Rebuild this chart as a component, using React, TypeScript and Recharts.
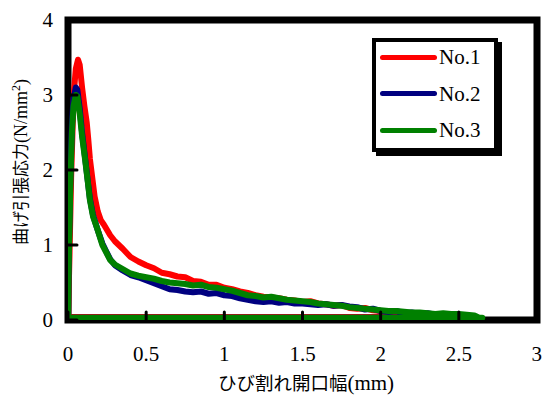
import { LineChart, Line, XAxis, YAxis, ReferenceArea, Legend } from "recharts";

// crack opening width (mm) vs flexural tensile stress (N/mm2)
const X_TICKS = [0, 0.5, 1, 1.5, 2, 2.5, 3];
const Y_TICKS = [0, 1, 2, 3, 4];
const SERIES_NAMES = ["No.1", "No.2", "No.3"];
const SERIES_COLORS = ["#ff0000", "#000080", "#008000"];

const NO1: [number, number][] = [
  [0, 0], [0.01, 0.9], [0.02, 1.9], [0.03, 2.6], [0.04, 3.1], [0.05, 3.35], [0.064, 3.47],
  [0.075, 3.4], [0.09, 3.1], [0.105, 2.85], [0.12, 2.63], [0.13, 2.4], [0.14, 2.15],
  [0.155, 1.9], [0.17, 1.65], [0.19, 1.45], [0.21, 1.33], [0.23, 1.27], [0.25, 1.2],
  [0.27, 1.13], [0.3, 1.05], [0.35, 0.95], [0.4, 0.84], [0.45, 0.78], [0.5, 0.73],
  [0.55, 0.69], [0.6, 0.63], [0.65, 0.61], [0.7, 0.58], [0.75, 0.57], [0.8, 0.52],
  [0.85, 0.51], [0.9, 0.47], [0.95, 0.47], [1.0, 0.43], [1.05, 0.41], [1.1, 0.38],
  [1.15, 0.36], [1.2, 0.33], [1.25, 0.31], [1.3, 0.3], [1.35, 0.29], [1.4, 0.27],
  [1.45, 0.26], [1.5, 0.24], [1.55, 0.25], [1.6, 0.22], [1.65, 0.21], [1.7, 0.19],
  [1.75, 0.2], [1.8, 0.16], [1.85, 0.15], [1.9, 0.16], [1.95, 0.13], [2.0, 0.12],
  [2.05, 0.1], [2.1, 0.11], [2.15, 0.07], [2.2, 0.05], [2.21, 0.04], [0, 0.04],
];

const NO2: [number, number][] = [
  [0, 0], [0.005, 0.9], [0.015, 1.9], [0.025, 2.6], [0.035, 2.95], [0.05, 3.1], [0.06, 3.07],
  [0.075, 2.82], [0.09, 2.5], [0.11, 2.15], [0.125, 1.88], [0.14, 1.62], [0.16, 1.4],
  [0.19, 1.2], [0.22, 1.02], [0.25, 0.89], [0.27, 0.81], [0.3, 0.73], [0.35, 0.66],
  [0.4, 0.6], [0.45, 0.57], [0.5, 0.53], [0.55, 0.49], [0.6, 0.45], [0.65, 0.41],
  [0.7, 0.4], [0.75, 0.38], [0.8, 0.37], [0.85, 0.38], [0.9, 0.35], [0.95, 0.36],
  [1.0, 0.33], [1.05, 0.32], [1.1, 0.29], [1.15, 0.27], [1.2, 0.25], [1.25, 0.24],
  [1.3, 0.25], [1.35, 0.23], [1.4, 0.24], [1.45, 0.22], [1.5, 0.22], [1.55, 0.21],
  [1.6, 0.2], [1.65, 0.21], [1.7, 0.19], [1.75, 0.2], [1.8, 0.18], [1.85, 0.17],
  [1.9, 0.14], [1.95, 0.15], [2.0, 0.12], [2.05, 0.11], [2.1, 0.12], [2.15, 0.09],
  [2.2, 0.1], [2.25, 0.08], [2.3, 0.09], [2.35, 0.07], [2.4, 0.08], [2.45, 0.06],
  [2.5, 0.07], [2.55, 0.05], [2.56, 0.03], [0, 0.03],
];

const NO3: [number, number][] = [
  [0, 0], [0.005, 0.8], [0.015, 1.8], [0.025, 2.5], [0.035, 2.85], [0.05, 3.0], [0.06, 2.98],
  [0.075, 2.75], [0.09, 2.45], [0.11, 2.13], [0.125, 1.87], [0.14, 1.6], [0.16, 1.38],
  [0.19, 1.2], [0.22, 1.0], [0.25, 0.88], [0.27, 0.8], [0.3, 0.74], [0.35, 0.68],
  [0.4, 0.62], [0.45, 0.59], [0.5, 0.57], [0.55, 0.55], [0.6, 0.52], [0.65, 0.5],
  [0.7, 0.49], [0.75, 0.48], [0.8, 0.46], [0.85, 0.47], [0.9, 0.44], [0.95, 0.43],
  [1.0, 0.41], [1.05, 0.39], [1.1, 0.36], [1.15, 0.33], [1.2, 0.32], [1.25, 0.3],
  [1.3, 0.31], [1.35, 0.29], [1.4, 0.27], [1.45, 0.26], [1.5, 0.25], [1.55, 0.24],
  [1.6, 0.22], [1.65, 0.21], [1.7, 0.2], [1.75, 0.19], [1.8, 0.17], [1.85, 0.16],
  [1.9, 0.15], [1.95, 0.14], [2.0, 0.13], [2.05, 0.12], [2.1, 0.12], [2.15, 0.11],
  [2.2, 0.1], [2.25, 0.1], [2.3, 0.09], [2.35, 0.08], [2.4, 0.09], [2.45, 0.08],
  [2.5, 0.08], [2.55, 0.07], [2.6, 0.06], [2.63, 0.03], [2.65, 0.03], [0, 0.03],
];

const SERIES = [NO1, NO2, NO3];

const toPoints = (pairs: [number, number][]) => pairs.map(([x, y]) => ({ x, y }));

const SERIF = '"Times New Roman", "Liberation Serif", "DejaVu Serif", serif';
const JP = '"Noto Sans CJK JP", sans-serif';

const YLabel = () => (
  <text x={27} y={162} transform="rotate(-90 27 162)" textAnchor="middle" fill="#000">
    <tspan style={{ fontFamily: JP }} fontSize={17}>曲げ引張応力</tspan>
    <tspan style={{ fontFamily: SERIF }} fontSize={18}>(N/mm</tspan>
    <tspan style={{ fontFamily: SERIF }} fontSize={12} dy={-7}>2</tspan>
    <tspan style={{ fontFamily: SERIF }} fontSize={18} dy={7}>)</tspan>
  </text>
);

const XLabel = () => (
  <text x={306} y={390} textAnchor="middle" fill="#000">
    <tspan style={{ fontFamily: JP }} fontSize={18.5}>ひび割れ開口幅</tspan>
    <tspan style={{ fontFamily: SERIF }} fontSize={21}>(mm)</tspan>
  </text>
);

const LegendBox = (props: any) => {
  const items = props.payload || [];
  return (
    <div
      style={{
        boxSizing: "border-box",
        width: 126,
        height: 114,
        border: "4px solid #000",
        boxShadow: "4px 4px 0 #000",
        background: "#fff",
      }}
    >
      {items.map((it: any, i: number) => (
        <div
          key={i}
          style={{ display: "flex", alignItems: "center", height: 30, marginTop: i === 0 ? 0 : 6.5 }}
        >
          <span
            style={{
              display: "inline-block",
              width: 57,
              height: 5,
              borderRadius: 3,
              background: it.color,
              marginLeft: 4,
              marginRight: 2,
            }}
          />
          <span style={{ fontFamily: SERIF, fontSize: 21, color: "#000", lineHeight: "30px" }}>{it.value}</span>
        </div>
      ))}
    </div>
  );
};

const tickStyle = { fontSize: 21, fill: "#000", style: { fontFamily: SERIF } };

export default function App() {
  return (
    <div style={{ position: "absolute", left: 0, top: 0, width: 542, height: 398, background: "#fff" }}>
      <LineChart width={542} height={398} margin={{ top: 20, right: 5, left: 0, bottom: 0 }}>
        <ReferenceArea
          x1={0}
          x2={3}
          y1={0}
          y2={4}
          fill="#fff"
          fillOpacity={1}
          stroke="#000"
          strokeWidth={7}
          ifOverflow="visible"
        />
        <XAxis
          type="number"
          dataKey="x"
          domain={[0, 3]}
          ticks={X_TICKS}
          allowDataOverflow
          height={78}
          axisLine={false}
          tickSize={-8}
          tickMargin={34}
          tickLine={{ stroke: "#000", strokeWidth: 3, strokeLinecap: "round" }}
          tick={tickStyle}
          label={<XLabel />}
        />
        <YAxis
          type="number"
          dataKey="y"
          domain={[0, 4]}
          ticks={Y_TICKS}
          allowDataOverflow
          width={68}
          axisLine={false}
          tickSize={-9}
          tickMargin={24}
          tickLine={{ stroke: "#000", strokeWidth: 3, strokeLinecap: "round" }}
          tick={tickStyle}
          label={<YLabel />}
        />
        {SERIES.map((s, i) => (
          <Line
            key={SERIES_NAMES[i]}
            name={SERIES_NAMES[i]}
            data={toPoints(s)}
            dataKey="y"
            type="linear"
            stroke={SERIES_COLORS[i]}
            strokeWidth={6}
            strokeLinejoin="round"
            dot={false}
            activeDot={false}
            isAnimationActive={false}
          />
        ))}
        <Legend
          layout="horizontal"
          align="center"
          verticalAlign="middle"
          content={<LegendBox />}
          wrapperStyle={{ left: 372, top: 38, width: 130, height: 118 }}
        />
      </LineChart>
    </div>
  );
}
